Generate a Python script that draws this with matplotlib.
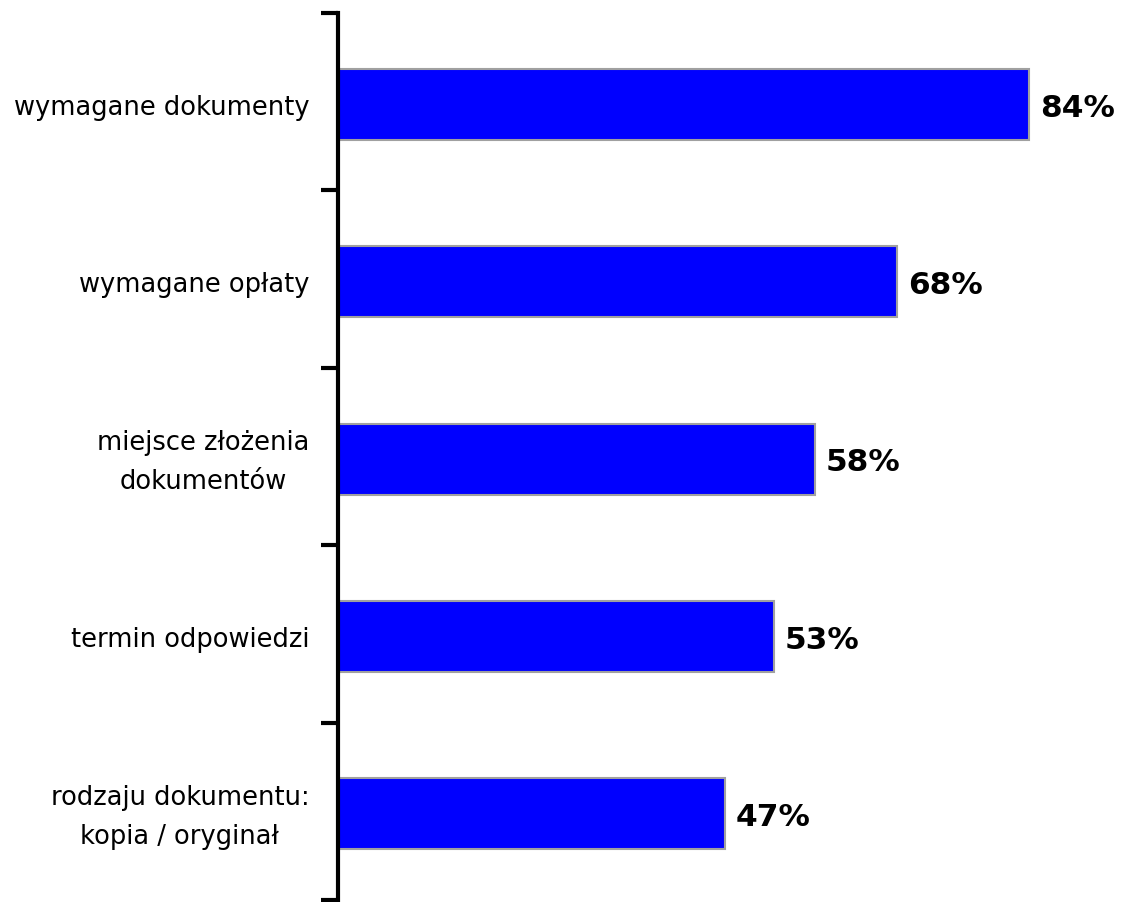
import matplotlib
matplotlib.use("Agg")
import matplotlib.pyplot as plt

# Survey results: what information respondents looked for
categories = [
    "wymagane dokumenty",
    "wymagane opłaty",
    "miejsce złożenia\ndokumentów",
    "termin odpowiedzi",
    "rodzaju dokumentu:\nkopia / oryginał",
]
values = [84, 68, 58, 53, 47]

plt.rcParams['font.family'] = ['DejaVu Sans']

fig = plt.figure(figsize=(11.23, 9.03), dpi=100)
px_per_unit = 8.226
xmax = 95
ax = fig.add_axes([338 / 1123, 2 / 903, xmax * px_per_unit / 1123, 887 / 903])

pos = list(range(len(categories)))
ax.barh([p + 0.015 for p in pos], values, height=0.4, color="#0000FF",
        edgecolor="#A0A0A0", linewidth=1.5, zorder=2)

for y, v in zip(pos, values):
    ax.text(v + 1.3, y + 0.03, f"{v}%", va="center", ha="left",
            fontsize=22.5, fontweight="bold", color="black")

for y, label in zip(pos, categories):
    ax.text(-3.5, y + 0.03, label, va="center", ha="right", multialignment="center",
            fontsize=18.5, linespacing=1.65, color="black")

ax.set_xlim(0, xmax)
ax.set_ylim(len(categories) - 0.5, -0.5)

# ticks sit on the band boundaries, not on the bars
ax.set_yticks([i - 0.5 for i in range(len(categories) + 1)])
ax.set_yticklabels([])
ax.tick_params(axis="y", length=12, width=3, direction="out")
ax.set_xticks([])

for side in ["top", "right", "bottom"]:
    ax.spines[side].set_visible(False)
ax.spines["left"].set_linewidth(3)

fig.savefig("out.png", dpi=100)
